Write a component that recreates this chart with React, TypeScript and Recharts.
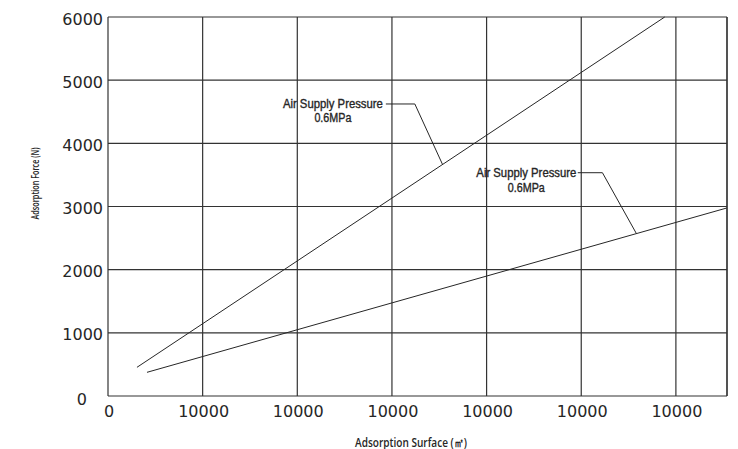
import React from 'react';
import { LineChart, Line, XAxis, YAxis, CartesianGrid, ReferenceLine, ReferenceDot, Label } from 'recharts';

const xTicks = [0, 10000, 20000, 30000, 40000, 50000, 60000];
const xTickLabels = ['0', '10000', '10000', '10000', '10000', '10000', '10000'];
const yTicks = [0, 1000, 2000, 3000, 4000, 5000, 6000];
const xMax = 65400;
const yMax = 6000;

const line1 = [
  { x: 3060, y: 454 },
  { x: 58820, y: 6000 },
];
const line2 = [
  { x: 4120, y: 375 },
  { x: 65364, y: 2976 },
];
const leader1 = [
  { x: 29356, y: 4623 },
  { x: 32418, y: 4623 },
  { x: 35343, y: 3666 },
];
const leader2 = [
  { x: 49630, y: 3535 },
  { x: 52239, y: 3535 },
  { x: 55829, y: 2571 },
];
const annotationLines = ['Air Supply Pressure', '0.6MPa'];
const annotations = [
  { x: 23760, y: 4638 },
  { x: 44200, y: 3535 },
];
const xTitle = 'Adsorption Surface (㎡)';
const yTitle = 'Adsorption Force (N)';

const INK = '#262626';
const labelFont = '"Open Sans", "Noto Sans", sans-serif';
const annFont = '"Liberation Sans", Arial, sans-serif';

const annContent = (props: any) => {
  const vb = props.viewBox || {};
  const cx = (vb.x || 0) + (vb.width || 0) / 2;
  const cy = (vb.y || 0) + (vb.height || 0) / 2;
  return (
    <text
      x={cx}
      y={cy + 4.5}
      textAnchor="middle"
      fontFamily={annFont}
      fontSize={12.4}
      fill={INK}
      stroke={INK}
      strokeWidth={0.35}
    >
      <tspan x={cx} textLength={100} lengthAdjust="spacingAndGlyphs">
        {annotationLines[0]}
      </tspan>
      <tspan x={cx} dy={14.5} textLength={37} lengthAdjust="spacingAndGlyphs">
        {annotationLines[1]}
      </tspan>
    </text>
  );
};

const YTick = (props: any) => {
  const { x, y, payload } = props;
  const isZero = payload.value === 0;
  return (
    <text
      x={isZero ? x - 16 : x}
      y={isZero ? y + 3 : y + 2}
      textAnchor="end"
      dominantBaseline="central"
      fontFamily='"DejaVu Sans", sans-serif'
      fontSize={16}
      fill={INK}
    >
      {payload.value}
    </text>
  );
};

const XTick = (props: any) => {
  const { x, y, payload, index } = props;
  return (
    <text
      x={x + 1}
      y={y + 13}
      textAnchor="middle"
      dominantBaseline="central"
      fontFamily='"DejaVu Sans", sans-serif'
      fontSize={16}
      fill={INK}
    >
      {xTickLabels[index] ?? payload.value}
    </text>
  );
};

export default function App() {
  return (
    <div style={{ position: 'absolute', left: 0, top: 0, background: '#fff' }}>
      <LineChart width={738} height={449} margin={{ top: 17, right: 11, bottom: 0, left: 0 }}>
        <CartesianGrid stroke="#333" strokeWidth={1.2} />
        <XAxis
          dataKey="x"
          type="number"
          domain={[0, xMax]}
          ticks={xTicks}
          allowDataOverflow
          axisLine={false}
          tickLine={false}
          tickSize={0}
          height={53}
          tick={<XTick />}
          interval={0}
        >
          <Label
            content={(p: any) => {
              const vb = p.viewBox || {};
              return (
                <text
                  x={(vb.x || 0) + 303}
                  y={(vb.y || 0) + 46}
                  textAnchor="middle"
                  dominantBaseline="central"
                  fontFamily={labelFont}
                  fontSize={12}
                  fontWeight={600}
                  fill={INK}
                  textLength={112}
                  lengthAdjust="spacingAndGlyphs"
                >
                  {xTitle}
                </text>
              );
            }}
          />
        </XAxis>
        <YAxis
          type="number"
          domain={[0, yMax]}
          ticks={yTicks}
          axisLine={false}
          tickLine={false}
          tickSize={0}
          tickMargin={5}
          width={108}
          tick={<YTick />}
          interval={0}
        >
          <Label
            content={(p: any) => {
              const vb = p.viewBox || {};
              const cx = (vb.x || 0) + 34;
              const cy = (vb.y || 0) + 166.5;
              return (
                <text
                  x={cx}
                  y={cy}
                  transform={`rotate(-90 ${cx} ${cy})`}
                  textAnchor="middle"
                  dominantBaseline="central"
                  fontFamily={labelFont}
                  fontSize={11.5}
                  fontWeight={600}
                  fill={INK}
                  textLength={72}
                  lengthAdjust="spacingAndGlyphs"
                >
                  {yTitle}
                </text>
              );
            }}
          />
        </YAxis>
        <ReferenceLine x={xMax} stroke="#333" strokeWidth={1.2} />
        <Line data={line1} dataKey="y" stroke={INK} strokeWidth={1} dot={false} isAnimationActive={false} />
        <Line data={line2} dataKey="y" stroke={INK} strokeWidth={1} dot={false} isAnimationActive={false} />
        <Line data={leader1} dataKey="y" stroke={INK} strokeWidth={1} dot={false} isAnimationActive={false} />
        <Line data={leader2} dataKey="y" stroke={INK} strokeWidth={1} dot={false} isAnimationActive={false} />
        {annotations.map((a, i) => (
          <ReferenceDot
            key={i}
            x={a.x}
            y={a.y}
            r={1}
            fill="none"
            stroke="none"
            label={{ content: annContent }}
          />
        ))}
      </LineChart>
    </div>
  );
}
